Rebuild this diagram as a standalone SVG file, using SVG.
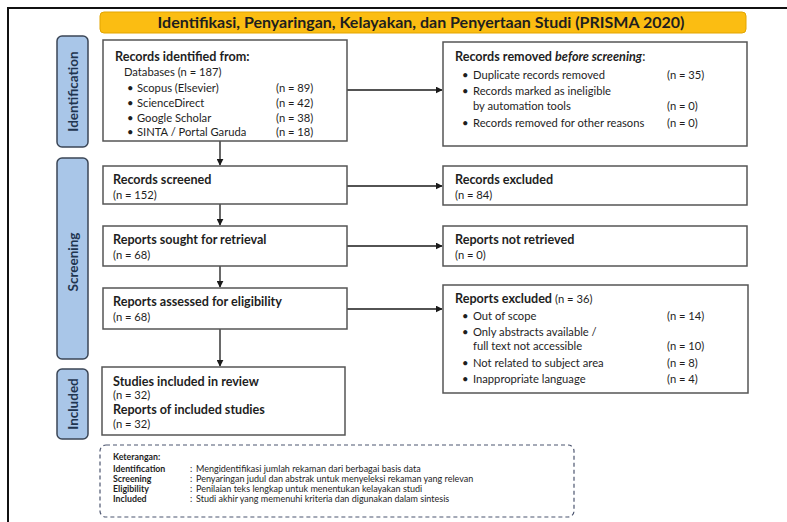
<svg xmlns="http://www.w3.org/2000/svg" width="787" height="522" viewBox="0 0 787 522">
<defs>
<marker id="ah" viewBox="0 0 10 10" refX="9" refY="5" markerWidth="7" markerHeight="7" markerUnits="userSpaceOnUse" orient="auto">
<path d="M0,0 L10,5 L0,10 z" fill="#1a1a1a"/>
</marker>
<style>
.t{font-family:Lato,"Open Sans","Liberation Sans",sans-serif;fill:#1e1e1e}
.b{font-weight:bold}
.s{font-size:11.2px}
.h{font-size:12.6px;font-weight:bold}
.box{fill:#ffffff;stroke:#555555;stroke-width:1.5}
.side{fill:#a9c6e8;stroke:#3b4656;stroke-width:1.5}
.sidet{font-family:Lato,"Open Sans","Liberation Sans",sans-serif;font-weight:bold;font-size:13.5px;fill:#1f3550;text-anchor:middle}
.c{stroke:#1a1a1a;stroke-width:1.3;fill:none;marker-end:url(#ah)}
.lg{font-size:9px}
.lb{font-size:8.8px;font-weight:bold}
</style>
</defs>
<rect x="0" y="0" width="787" height="522" fill="#ffffff"/>
<path d="M8,522 L8,8 L787,8" fill="none" stroke="#111111" stroke-width="2"/>

<g id="title">
<rect x="100" y="12" width="646" height="21" rx="4" fill="#fbbd12" stroke="#e3a500" stroke-width="1"/>
<text class="t b" x="421" y="28" font-size="16" text-anchor="middle">Identifikasi, Penyaringan, Kelayakan, dan Penyertaan Studi (PRISMA 2020)</text>
</g>

<g id="side-identification">
<rect class="side" x="57" y="36" width="31" height="111" rx="5"/>
<text class="sidet" transform="translate(77.5,91.5) rotate(-90)">Identification</text>
</g>
<g id="side-screening">
<rect class="side" x="57" y="158" width="31" height="201" rx="5"/>
<text class="sidet" transform="translate(77.5,262) rotate(-90)">Screening</text>
</g>
<g id="side-included">
<rect class="side" x="57" y="369" width="31" height="70" rx="5"/>
<text class="sidet" transform="translate(77.5,404) rotate(-90)">Included</text>
</g>

<g id="connectors">
<line class="c" x1="220" y1="141" x2="220" y2="165"/>
<line class="c" x1="220" y1="204" x2="220" y2="225"/>
<line class="c" x1="220" y1="266" x2="220" y2="287"/>
<line class="c" x1="220" y1="329" x2="220" y2="366"/>
<line class="c" x1="347" y1="90" x2="442" y2="90"/>
<line class="c" x1="347" y1="186" x2="442" y2="186"/>
<line class="c" x1="347" y1="246" x2="442" y2="246"/>
<line class="c" x1="347" y1="309" x2="442" y2="309"/>
</g>

<g id="records-identified">
<rect class="box" x="103" y="40" width="244" height="101"/>
<text class="t h" x="115" y="61">Records identified from:</text>
<text class="t s" x="124" y="76">Databases (n = 187)</text>
<text class="t s" x="127" y="92">•</text><text class="t s" x="137" y="92">Scopus (Elsevier)</text><text class="t s" x="276" y="92">(n = 89)</text>
<text class="t s" x="127" y="107">•</text><text class="t s" x="137" y="107">ScienceDirect</text><text class="t s" x="276" y="107">(n = 42)</text>
<text class="t s" x="127" y="122">•</text><text class="t s" x="137" y="122">Google Scholar</text><text class="t s" x="276" y="122">(n = 38)</text>
<text class="t s" x="127" y="136">•</text><text class="t s" x="137" y="136">SINTA / Portal Garuda</text><text class="t s" x="276" y="136">(n = 18)</text>
</g>

<g id="records-removed">
<rect class="box" x="443" y="42" width="304" height="104"/>
<text class="t h" x="455" y="61">Records removed <tspan font-style="italic">before screening</tspan><tspan font-weight="normal">:</tspan></text>
<text class="t s" x="462" y="79">•</text><text class="t s" x="473" y="79">Duplicate records removed</text><text class="t s" x="667" y="79">(n = 35)</text>
<text class="t s" x="462" y="95">•</text><text class="t s" x="473" y="95">Records marked as ineligible</text>
<text class="t s" x="473" y="110">by automation tools</text><text class="t s" x="667" y="110">(n = 0)</text>
<text class="t s" x="462" y="127">•</text><text class="t s" x="473" y="127">Records removed for other reasons</text><text class="t s" x="667" y="127">(n = 0)</text>
</g>

<g id="records-screened">
<rect class="box" x="103" y="166" width="244" height="38"/>
<text class="t h" x="113" y="184">Records screened</text>
<text class="t s" x="113" y="199">(n = 152)</text>
</g>

<g id="records-excluded">
<rect class="box" x="443" y="166" width="304" height="39"/>
<text class="t h" x="455" y="184">Records excluded</text>
<text class="t s" x="455" y="199">(n = 84)</text>
</g>

<g id="reports-sought">
<rect class="box" x="103" y="226" width="244" height="40"/>
<text class="t h" x="113" y="244">Reports sought for retrieval</text>
<text class="t s" x="113" y="259">(n = 68)</text>
</g>

<g id="reports-not-retrieved">
<rect class="box" x="443" y="226" width="304" height="40"/>
<text class="t h" x="455" y="244">Reports not retrieved</text>
<text class="t s" x="455" y="259">(n = 0)</text>
</g>

<g id="reports-assessed">
<rect class="box" x="103" y="288" width="244" height="41"/>
<text class="t h" x="113" y="306">Reports assessed for eligibility</text>
<text class="t s" x="113" y="321">(n = 68)</text>
</g>

<g id="reports-excluded">
<rect class="box" x="443" y="285" width="305" height="108"/>
<text class="t h" x="455" y="303">Reports excluded <tspan font-weight="normal" font-size="11.2px">(n = 36)</tspan></text>
<text class="t s" x="462" y="320">•</text><text class="t s" x="473" y="320">Out of scope</text><text class="t s" x="667" y="320">(n = 14)</text>
<text class="t s" x="462" y="336">•</text><text class="t s" x="473" y="336">Only abstracts available /</text>
<text class="t s" x="473" y="350">full text not accessible</text><text class="t s" x="667" y="350">(n = 10)</text>
<text class="t s" x="462" y="367">•</text><text class="t s" x="473" y="367">Not related to subject area</text><text class="t s" x="667" y="367">(n = 8)</text>
<text class="t s" x="462" y="383">•</text><text class="t s" x="473" y="383">Inappropriate language</text><text class="t s" x="667" y="383">(n = 4)</text>
</g>

<g id="studies-included">
<rect class="box" x="102" y="367" width="243" height="68"/>
<text class="t h" x="113" y="386">Studies included in review</text>
<text class="t s" x="113" y="399">(n = 32)</text>
<text class="t h" x="113" y="414">Reports of included studies</text>
<text class="t s" x="113" y="428">(n = 32)</text>
</g>

<g id="legend">
<rect x="100" y="445" width="474" height="72" rx="6" fill="none" stroke="#4d5670" stroke-width="1.2" stroke-dasharray="4 3"/>
<text class="t lb" x="113" y="460">Keterangan:</text>
<text class="t lb" x="113" y="472">Identification</text><text class="t lg" x="190" y="472">:</text><text class="t lg" x="196" y="472">Mengidentifikasi jumlah rekaman dari berbagai basis data</text>
<text class="t lb" x="113" y="482">Screening</text><text class="t lg" x="190" y="482">:</text><text class="t lg" x="196" y="482">Penyaringan judul dan abstrak untuk menyeleksi rekaman yang relevan</text>
<text class="t lb" x="113" y="492">Eligibility</text><text class="t lg" x="190" y="492">:</text><text class="t lg" x="196" y="492">Penilaian teks lengkap untuk menentukan kelayakan studi</text>
<text class="t lb" x="113" y="502">Included</text><text class="t lg" x="190" y="502">:</text><text class="t lg" x="196" y="502">Studi akhir yang memenuhi kriteria dan digunakan dalam sintesis</text>
</g>
</svg>
